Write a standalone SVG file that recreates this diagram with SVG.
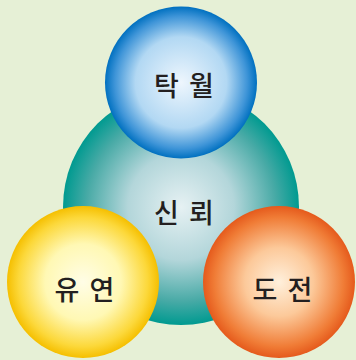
<svg xmlns="http://www.w3.org/2000/svg" width="356" height="360" viewBox="0 0 356 360">
<defs>
<radialGradient id="gTeal" cx="0.5" cy="0.5" r="0.5">
<stop offset="0" stop-color="#e6f1f3"/>
<stop offset="0.45" stop-color="#b3d6da"/>
<stop offset="0.8" stop-color="#48aaa6"/>
<stop offset="1" stop-color="#009a90"/>
</radialGradient>
<radialGradient id="gBlue" cx="0.5" cy="0.5" r="0.5">
<stop offset="0" stop-color="#eef6fd"/>
<stop offset="0.6" stop-color="#b2d8f3"/>
<stop offset="0.87" stop-color="#3f95d8"/>
<stop offset="1" stop-color="#0070c0"/>
</radialGradient>
<radialGradient id="gYellow" cx="0.5" cy="0.5" r="0.5">
<stop offset="0" stop-color="#fffde6"/>
<stop offset="0.5" stop-color="#fff8b4"/>
<stop offset="0.85" stop-color="#fcd83a"/>
<stop offset="1" stop-color="#f5bf00"/>
</radialGradient>
<radialGradient id="gOrange" cx="0.5" cy="0.5" r="0.5">
<stop offset="0" stop-color="#fff0dc"/>
<stop offset="0.45" stop-color="#fcc99a"/>
<stop offset="0.85" stop-color="#f07c36"/>
<stop offset="1" stop-color="#e55a1c"/>
</radialGradient>
<style>
.lbl{font-family:"Noto Sans CJK KR","Noto Sans",sans-serif;font-size:27px;font-weight:500;fill:#231f20;text-anchor:middle;dominant-baseline:central;letter-spacing:2px;}
</style>
</defs>
<rect width="356" height="360" fill="#e6f0d6"/>
<g id="connectors"/>
<g id="trust">
<circle cx="181" cy="207" r="118" fill="url(#gTeal)"/>
<text class="lbl" x="185" y="211">신 뢰</text>
</g>
<g id="excellence">
<circle cx="181" cy="82.5" r="76" fill="url(#gBlue)"/>
<text class="lbl" x="185" y="84">탁 월</text>
</g>
<g id="flexibility">
<circle cx="83" cy="282" r="76" fill="url(#gYellow)"/>
<text class="lbl" x="85.5" y="288">유 연</text>
</g>
<g id="challenge">
<circle cx="279" cy="282" r="76" fill="url(#gOrange)"/>
<text class="lbl" x="283.5" y="288">도 전</text>
</g>
</svg>
